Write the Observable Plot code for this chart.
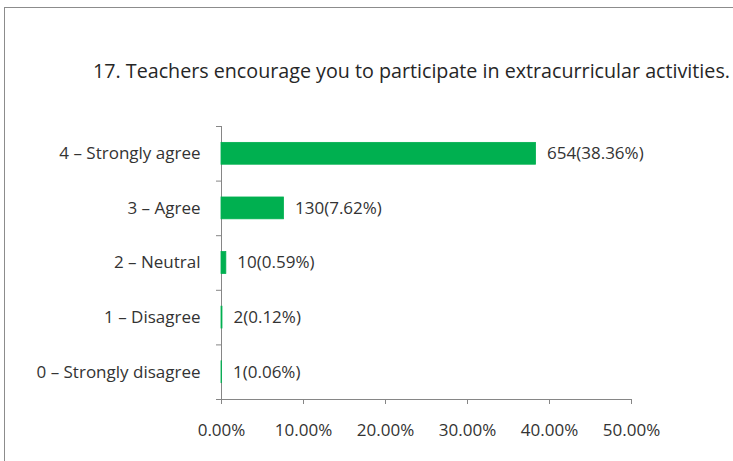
<!DOCTYPE html>
<html>
<head>
<meta charset="utf-8">
<script src="https://cdn.jsdelivr.net/npm/d3@7"></script>
<script src="https://cdn.jsdelivr.net/npm/@observablehq/plot@0.6"></script>
<style>
  html, body { margin: 0; padding: 0; background: #fff; }
  #wrap { position: relative; width: 733px; height: 461px; overflow: hidden; font-family: "Open Sans", sans-serif; }
  #border { position: absolute; left: 4px; top: 7px; width: 760px; height: 470px; border-top: 1px solid #8c8c8c; border-left: 1px solid #8c8c8c; }
  #title { position: absolute; left: 93px; top: 57px; font-size: 19.7px; color: #262626; white-space: nowrap; }
  #chart { position: absolute; left: 0; top: 0; }
</style>
</head>
<body>
<div id="wrap">
  <div id="border"></div>
  <div id="chart"></div>
  <div id="title"></div>
</div>
<script>
const titleText = "17. Teachers encourage you to participate in extracurricular activities.";
const categories = ["4 – Strongly agree", "3 – Agree", "2 – Neutral", "1 – Disagree", "0 – Strongly disagree"];
const counts = [654, 130, 10, 2, 1];
const percents = [38.36, 7.62, 0.59, 0.12, 0.06];
const xTicks = [0, 10, 20, 30, 40, 50];

document.getElementById("title").textContent = titleText;
const data = categories.map((c, i) => ({category: c, count: counts[i], pct: percents[i]}));

const width = 733, height = 461;
const marginTop = 126, marginBottom = 62, marginLeft = 221, marginRight = 102;
const step = (height - marginTop - marginBottom) / categories.length;
const axisColor = "#868686";
const textColor = "#333333";
const fs = 17;

const chart = Plot.plot({
  width, height, marginTop, marginBottom, marginLeft, marginRight,
  style: {fontFamily: "'Open Sans', sans-serif", fontSize: fs + "px", color: textColor, background: "transparent", overflow: "visible"},
  x: {domain: [0, 50], axis: null, label: null},
  y: {domain: categories, paddingInner: 0.6, paddingOuter: 0.3, round: false, axis: null, label: null},
  marks: [
    // axis lines
    Plot.ruleX([0], {stroke: axisColor}),
    Plot.ruleY([categories[categories.length - 1]], {x1: 0, x2: 50, dy: step / 2, stroke: axisColor}),
    Plot.barX(data, {y: "category", x: "pct", fill: "#00B050", stroke: "#00B050", strokeWidth: 0.8}),
    Plot.text(data, {y: "category", x: "pct", text: d => `${d.count}(${d.pct.toFixed(2)}%)`, textAnchor: "start", dx: 11, fill: textColor, fontSize: fs}),
    // category labels
    Plot.axisY({tickSize: 0, tickPadding: 21, fontSize: fs, fill: textColor, label: null}),
    // boundary ticks
    Plot.axisY({tickSize: 5, tickPadding: 0, tickFormat: () => "", dy: -step / 2, stroke: axisColor, label: null}),
    Plot.axisY([categories[categories.length - 1]], {tickSize: 5, tickPadding: 0, tickFormat: () => "", dy: step / 2, stroke: axisColor, label: null}),
    Plot.axisX({ticks: xTicks, tickSize: 5, tickPadding: 19, tickFormat: d => d.toFixed(2) + "%", stroke: axisColor, fill: textColor, fontSize: fs, label: null})
  ]
});
document.getElementById("chart").appendChild(chart);
</script>
</body>
</html>
